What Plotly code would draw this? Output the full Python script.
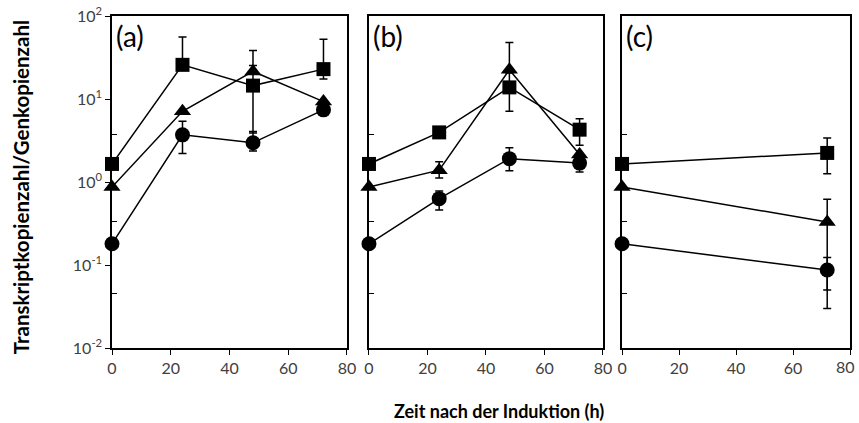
import plotly.graph_objects as go

# ---------------- data ----------------
time_ab = [0, 24, 48, 72]
time_c = [0, 72]

# panel (a)
sq_a = [1.65, 25.8, 14.5, 22.9]
sq_a_up = [0, 30.0, 10.8, 29.6]
sq_a_dn = [0, 0, 10.6, 5.5]
tri_a = [0.87, 7.1, 21.5, 9.3]
tri_a_up = [0, 0, 16.8, 0]
tri_a_dn = [0, 0, 0, 0]
circ_a = [0.18, 3.7, 2.97, 7.4]
circ_a_up = [0, 1.7, 1.1, 0]
circ_a_dn = [0, 1.5, 0.6, 0]

# panel (b)
sq_b = [1.65, 3.96, 13.8, 4.27]
sq_b_up = [0, 0, 6.7, 1.5]
sq_b_dn = [0, 0, 6.7, 1.5]
tri_b = [0.87, 1.39, 22.5, 2.14]
tri_b_up = [0, 0.36, 25.5, 0]
tri_b_dn = [0, 0.27, 0, 0]
circ_b = [0.18, 0.63, 1.91, 1.69]
circ_b_up = [0, 0.15, 0.67, 0.37]
circ_b_dn = [0, 0.17, 0.54, 0.37]

# panel (c)
sq_c = [1.65, 2.24]
sq_c_up = [0, 1.16]
sq_c_dn = [0, 0.98]
tri_c = [0.87, 0.33]
tri_c_up = [0, 0.29]
tri_c_dn = [0, 0.28]
circ_c = [0.18, 0.087]
circ_c_up = [0, 0.036]
circ_c_dn = [0, 0.057]

panel_labels = ["(a)", "(b)", "(c)"]
x_ticks = [0, 20, 40, 60, 80]
y_tickvals = [0.01, 0.1, 1, 10, 100]
y_ticktext = ["10<sup>-2</sup>", "10<sup>-1</sup>", "10<sup>0</sup>", "10<sup>1</sup>", "10<sup>2</sup>"]
y_minor = [0.045, 0.33, 3.7]

x_title = "Zeit nach der Induktion (h)"
y_title = "Transkriptkopienzahl/Genkopienzahl"

FONT = "Lato"
TXT = "#404040"

fig = go.Figure()

panels = [
    ("x", "y", time_ab, [(sq_a, sq_a_up, sq_a_dn, "square"),
                          (tri_a, tri_a_up, tri_a_dn, "triangle-up"),
                          (circ_a, circ_a_up, circ_a_dn, "circle")]),
    ("x2", "y2", time_ab, [(sq_b, sq_b_up, sq_b_dn, "square"),
                            (tri_b, tri_b_up, tri_b_dn, "triangle-up"),
                            (circ_b, circ_b_up, circ_b_dn, "circle")]),
    ("x3", "y3", time_c, [(sq_c, sq_c_up, sq_c_dn, "square"),
                           (tri_c, tri_c_up, tri_c_dn, "triangle-up"),
                           (circ_c, circ_c_up, circ_c_dn, "circle")]),
]

msize = {"square": 14, "triangle-up": 15, "circle": 15}

for xa, ya, t, series in panels:
    for vals, up, dn, sym in series:
        fig.add_trace(go.Scatter(
            x=t, y=vals, xaxis=xa, yaxis=ya, mode="lines+markers",
            line=dict(color="black", width=1.5),
            marker=dict(symbol=sym, size=msize[sym], color="black"),
            error_y=dict(type="data", symmetric=False, array=up, arrayminus=dn,
                         color="black", thickness=1.5, width=4),
            showlegend=False, cliponaxis=False, hoverinfo="skip",
        ))

domains = [[0, 0.3184], [0.3482, 0.6653], [0.6911, 1.0]]
for i, dom in enumerate(domains):
    sfx = "" if i == 0 else str(i + 1)
    xtext = [str(v) for v in x_ticks]
    if i == 2:
        xtext[-1] = ""  # last label drawn separately (would be hidden at page edge)
    fig.layout["xaxis" + sfx] = dict(
        domain=dom, range=[0, 80], tickvals=x_ticks, ticktext=xtext,
        ticks="outside", ticklen=5,
        tickcolor="black", showline=True, linecolor="black", linewidth=1.5,
        mirror=True, showgrid=False, zeroline=False, automargin=False,
        tickfont=dict(family=FONT, size=16, color=TXT), anchor="y" + sfx,
    )
    ycfg = dict(
        type="log", range=[-2, 2], showline=True, linecolor="black", linewidth=1.5,
        mirror=True, showgrid=False, zeroline=False, anchor="x" + sfx,
        automargin=False,
        minor=dict(tickmode="array", tickvals=y_minor, ticks="inside", ticklen=5,
                   tickcolor="black", tickwidth=1.2, showgrid=False),
    )
    if i == 0:
        ycfg.update(tickvals=y_tickvals, ticktext=y_ticktext, ticks="outside",
                    ticklen=5, tickcolor="black",
                    tickfont=dict(family=FONT, size=16, color=TXT))
    else:
        ycfg.update(showticklabels=False, ticks="", tickvals=y_tickvals)
    fig.layout["yaxis" + sfx] = ycfg
    fig.add_annotation(
        text=panel_labels[i], xref="x" + sfx + " domain", yref="y" + sfx + " domain",
        x=0.008, y=0.998, xanchor="left", yanchor="top", showarrow=False,
        font=dict(family=FONT, size=28, color="black"),
    )

# last x tick label of panel (c)
fig.add_annotation(
    text=str(x_ticks[-1]), xref="x3", yref="y3 domain", x=x_ticks[-1], y=0,
    yshift=-7, xshift=7, xanchor="right", yanchor="top", showarrow=False,
    font=dict(family=FONT, size=16, color=TXT),
)

fig.add_annotation(
    text="<b>" + y_title + "</b>", xref="paper", yref="paper", x=-0.123, y=0.485,
    textangle=-90, showarrow=False, xanchor="center", yanchor="middle",
    font=dict(family=FONT, size=20.5, color="black"),
)
fig.add_annotation(
    text="<b>" + x_title + "</b>", xref="paper", yref="paper", x=0.524, y=-0.19,
    showarrow=False, xanchor="center", yanchor="middle",
    font=dict(family=FONT, size=18, color="black"),
)

fig.update_layout(
    width=859, height=423,
    margin=dict(l=112, r=9, t=16, b=75),
    paper_bgcolor="white", plot_bgcolor="white",
    font=dict(family=FONT), hovermode=False,
)

fig.write_html("out.html", config={"displayModeBar": False},
               post_script="document.body.style.margin='0';document.body.style.padding='0';")
